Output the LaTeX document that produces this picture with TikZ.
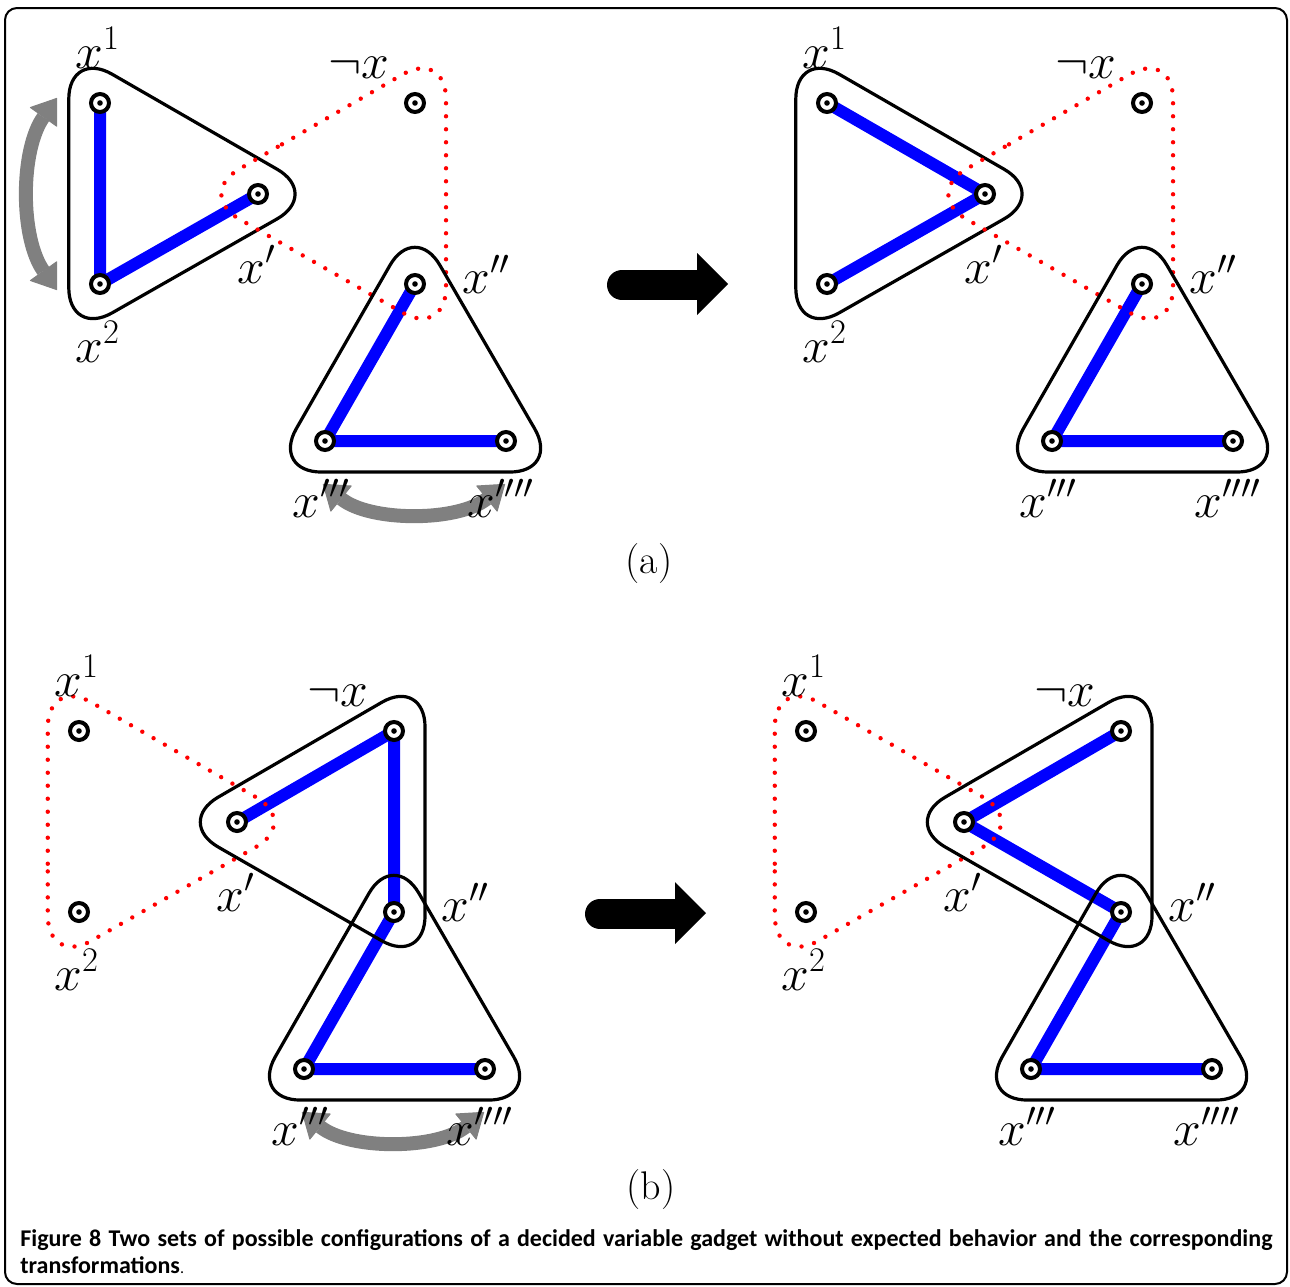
\documentclass[tikz,border=0pt]{standalone}
\usepackage{fontspec}
\newfontfamily\capfont{Carlito}
\usetikzlibrary{calc,arrows.meta}
\definecolor{arrgray}{RGB}{128,128,128}
\tikzset{
  vtx/.style={circle,draw=black,line width=2pt,fill=white,minimum size=9pt,inner sep=0pt,
    path picture={\fill[black] (path picture bounding box.center) circle (1.4pt);}},
  blueedge/.style={draw=blue,line width=6pt,line join=round},
  blackhull/.style={draw=black,line width=1.6pt,rounded corners=25pt},
  redhull/.style={draw=red,line width=2.2pt,dash pattern=on 0pt off 6.5pt,line cap=round,rounded corners=25pt},
  lbl/.style={anchor=base west,inner sep=0pt,font=\fontsize{26}{30}\selectfont},
  grayswap/.style={draw=arrgray,line width=7pt,
    {Triangle[length=12pt,width=17pt,line width=0.5pt,round]}-{Triangle[length=12pt,width=17pt,line width=0.5pt,round]}},
  sublbl/.style={inner sep=0pt,font=\fontsize{20}{24}\selectfont},
}
\newcommand\vars[3]{%
  \coordinate (#11) at (100+#2,103+#3);
  \coordinate (#12) at (100+#2,284+#3);
  \coordinate (#1p) at (258+#2,194+#3);
  \coordinate (#1n) at (415+#2,103+#3);
  \coordinate (#1pp) at (415+#2,284+#3);
  \coordinate (#1ppp) at (325+#2,441+#3);
  \coordinate (#1pppp) at (506+#2,441+#3);}
\newcommand\hull[4]{%
  \coordinate (G) at (barycentric cs:#2=1,#3=1,#4=1);
  \coordinate (HA) at ($(G)!1.593!(#2)$);
  \coordinate (HB) at ($(G)!1.593!(#3)$);
  \coordinate (HC) at ($(G)!1.593!(#4)$);
  \draw[#1] ($(HA)!0.5!(HB)$) -- (HB) -- (HC) -- (HA) -- cycle;}
\newcommand\vtxs[1]{\foreach \v in {1,2,p,n,pp,ppp,pppp} {\node[vtx] (#1\v-v) at (#1\v) {};}}
\newcommand\lbls[1]{%
  \node[lbl] (#11l) at ($(#11)+(-25,-35)$) {$x^1$};
  \node[lbl] (#12l) at ($(#12)+(-25,78)$) {$x^2$};
  \node[lbl] (#1pl) at ($(#1p)+(-21,89)$) {$x'$};
  \node[lbl] (#1nl) at ($(#1n)+(-87,-25)$) {$\neg x$};
  \node[lbl] (#1ppl) at ($(#1pp)+(47,9)$) {$x''$};
  \node[lbl] (#1pppl) at ($(#1ppp)+(-33,76)$) {$x'''$};
  \node[lbl] (#1ppppl) at ($(#1pppp)+(-39,76)$) {$x''''$};}
\newcommand\fatarrow[2]{%
  \draw[line width=15pt,line cap=round] (622+#1,285+#2) -- (699+#1,285+#2);
  \fill (697+#1,253+#2) -- (728+#1,284+#2) -- (697+#1,315+#2) -- cycle;}
\begin{document}
\begin{tikzpicture}[x=0.5pt,y=-0.5pt]
\useasboundingbox (0,0) rectangle (1290,1286);
% ---------- panel (a) left
\vars{A}{0}{0}
\draw[blueedge] (A1) -- (A2) -- (Ap);
\draw[blueedge] (App) -- (Appp) -- (Apppp);
\hull{blackhull}{A1}{A2}{Ap}
\hull{redhull}{An}{Ap}{App}
\hull{blackhull}{App}{Appp}{Apppp}
\vtxs{A}
\coordinate (ga1) at (57,98); \coordinate (ga2) at (57,290);
\draw[grayswap] (ga1) .. controls (20,150) and (20,238) .. (ga2);
\coordinate (gb1) at (323,484); \coordinate (gb2) at (505,484);
\draw[grayswap] (gb1) .. controls (370,522) and (458,522) .. (gb2);
\lbls{A}
% ---------- panel (a) right
\vars{B}{727}{0}
\draw[blueedge] (B1) -- (Bp) -- (B2);
\draw[blueedge] (Bpp) -- (Bppp) -- (Bpppp);
\hull{blackhull}{B1}{B2}{Bp}
\hull{redhull}{Bn}{Bp}{Bpp}
\hull{blackhull}{Bpp}{Bppp}{Bpppp}
\vtxs{B}
\lbls{B}
\fatarrow{0}{0}
\node[sublbl] (suba) at (649,564) {(a)};
% ---------- panel (b) left
\vars{C}{-21}{628}
\draw[blueedge] (Cp) -- (Cn) -- (Cpp) -- (Cppp) -- (Cpppp);
\hull{redhull}{C1}{C2}{Cp}
\hull{blackhull}{Cp}{Cn}{Cpp}
\hull{blackhull}{Cpp}{Cppp}{Cpppp}
\vtxs{C}
\coordinate (gc1) at (302,1112); \coordinate (gc2) at (484,1112);
\draw[grayswap] (gc1) .. controls (349,1150) and (437,1150) .. (gc2);
\lbls{C}
% ---------- panel (b) right
\vars{D}{706}{628}
\draw[blueedge] (Dn) -- (Dp) -- (Dpp) -- (Dppp) -- (Dpppp);
\hull{redhull}{D1}{D2}{Dp}
\hull{blackhull}{Dp}{Dn}{Dpp}
\hull{blackhull}{Dpp}{Dppp}{Dpppp}
\vtxs{D}
\lbls{D}
\fatarrow{-22}{629}
\node[sublbl] (subb) at (651,1190) {(b)};
% ---------- caption and frame
\node[anchor=north west,inner sep=0pt,text width=626pt,align=justify,
      font=\capfont\bfseries\fontsize{12}{13.5}\selectfont] (cap) at (20,1229)
  {Figure 8 Two sets of possible configurations of a decided variable gadget without expected behavior and the corresponding\linebreak transformations{\mdseries\fontsize{8}{9}\selectfont .}};
\draw[line width=1pt,rounded corners=6pt] (5,8) rectangle (1287,1284);
\end{tikzpicture}
\end{document}
